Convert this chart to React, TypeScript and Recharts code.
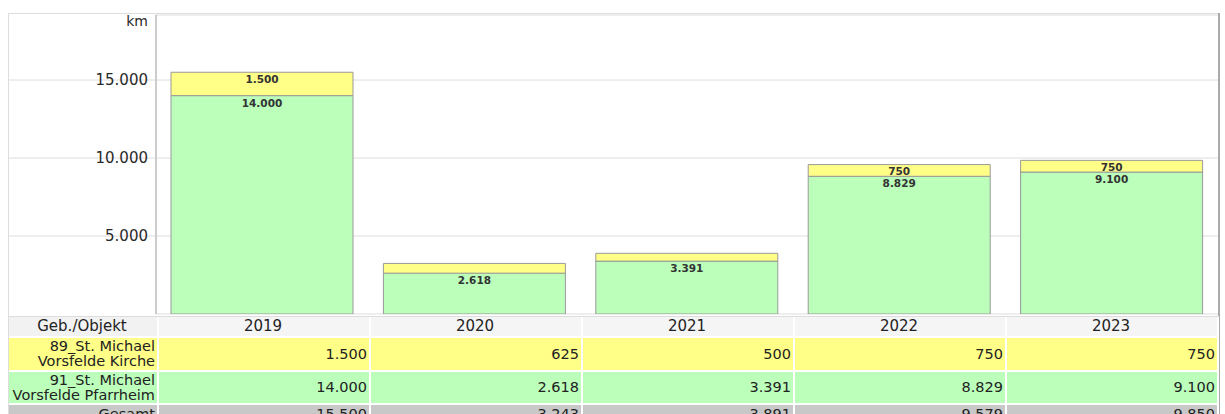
import { BarChart, Bar, XAxis, YAxis, CartesianGrid, LabelList, Label } from 'recharts'

const years = ['2019', '2020', '2021', '2022', '2023']
const kirche = [1500, 625, 500, 750, 750]
const pfarrheim = [14000, 2618, 3391, 8829, 9100]
const yTicks = [5000, 10000, 15000]

const YELLOW = '#ffff88'
const GREEN = '#bbffbb'
const FONT = '"DejaVu Sans", Verdana, sans-serif'

const fmt = (n: number) => String(n).replace(/\B(?=(\d{3})+(?!\d))/g, '.')

const data = years.map((y, i) => ({ year: y, kirche: kirche[i], pfarrheim: pfarrheim[i] }))
const gesamt = years.map((_, i) => kirche[i] + pfarrheim[i])

function YTick(props: any) {
  const { x, y, payload } = props
  return (
    <g>
      <line x1={0} x2={x + 8} y1={y} y2={y} stroke="#dddddd" />
      <text x={x} y={y} dy="0.36em" textAnchor="end" fontSize={15} fill="#2a2a2a" fontFamily={FONT}>
        {fmt(payload.value)}
      </text>
    </g>
  )
}

function SegLabel(props: any) {
  const { x, y, width, height, value } = props
  if (height < 11) return null
  return (
    <text x={x + width / 2} y={y + 3} dy="0.75em" textAnchor="middle" fontSize={10.5} fontWeight="bold" fill="#333" fontFamily={FONT}>
      {fmt(value)}
    </text>
  )
}

const cell = (bg: string, align: 'left' | 'right' | 'center'): React.CSSProperties => ({
  background: bg,
  textAlign: align,
  padding: '0 2px 0 0',
  borderRight: '2px solid #fff',
  borderBottom: '2px solid #fff',
  color: '#222',
  fontSize: 14.5,
  lineHeight: '15px',
  overflow: 'hidden',
  whiteSpace: 'nowrap',
})

export default function App() {
  return (
    <div style={{ position: 'absolute', left: 0, top: 0, width: 1225, height: 414, overflow: 'hidden', background: '#fff', fontFamily: FONT }}>
      {/* frame */}
      <div style={{ position: 'absolute', left: 8, top: 13, width: 1211, height: 1, background: '#dddddd' }} />
      <div style={{ position: 'absolute', left: 8, top: 13, width: 1, height: 401, background: '#dddddd' }} />
      <div style={{ position: 'absolute', left: 1218, top: 13, width: 2, height: 401, background: '#aaaaaa' }} />
      <div style={{ position: 'absolute', left: 8, top: 316, width: 1211, height: 1, background: '#dddddd' }} />

      <div style={{ position: 'absolute', left: 8, top: 13 }}>
        <BarChart width={1210} height={303} data={data} margin={{ top: 2, right: 0, bottom: 2, left: 0 }} barCategoryGap={15}>
          <CartesianGrid vertical={false} stroke="#dddddd" />
          <XAxis dataKey="year" hide />
          <YAxis
            width={148}
            domain={[0, 19170]}
            ticks={yTicks}
            tickLine={false}
            axisLine={{ stroke: '#999' }}
            tick={<YTick />}
            allowDataOverflow
          >
            <Label
              content={(p: any) => (
                <text x={p.viewBox.x + p.viewBox.width - 8} y={p.viewBox.y + 11} textAnchor="end" fontSize={14} fill="#2a2a2a" fontFamily={FONT}>
                  km
                </text>
              )}
            />
          </YAxis>
          <Bar dataKey="pfarrheim" stackId="a" fill={GREEN} stroke="#999" isAnimationActive={false}>
            <LabelList dataKey="pfarrheim" content={<SegLabel />} />
          </Bar>
          <Bar dataKey="kirche" stackId="a" fill={YELLOW} stroke="#999" isAnimationActive={false}>
            <LabelList dataKey="kirche" content={<SegLabel />} />
          </Bar>
        </BarChart>
      </div>

      <table
        style={{
          position: 'absolute',
          left: 9,
          top: 317,
          width: 1210,
          borderCollapse: 'collapse',
          tableLayout: 'fixed',
          fontFamily: FONT,
        }}
      >
        <colgroup>
          <col style={{ width: 149 }} />
          {years.map((y) => (
            <col key={y} />
          ))}
        </colgroup>
        <tbody>
          <tr style={{ height: 20 }}>
            <td style={{ ...cell('#f2f2f2', 'center'), fontSize: 15 }}>Geb./Objekt</td>
            {years.map((y) => (
              <td key={y} style={{ ...cell('#f5f5f5', 'center'), fontSize: 15 }}>
                {y}
              </td>
            ))}
          </tr>
          <tr style={{ height: 34 }}>
            <td style={cell(YELLOW, 'right')}>
              89_St. Michael
              <br />
              Vorsfelde Kirche
            </td>
            {kirche.map((v, i) => (
              <td key={i} style={cell(YELLOW, 'right')}>
                {fmt(v)}
              </td>
            ))}
          </tr>
          <tr style={{ height: 33 }}>
            <td style={cell(GREEN, 'right')}>
              91_St. Michael
              <br />
              Vorsfelde Pfarrheim
            </td>
            {pfarrheim.map((v, i) => (
              <td key={i} style={cell(GREEN, 'right')}>
                {fmt(v)}
              </td>
            ))}
          </tr>
          <tr style={{ height: 20 }}>
            <td style={cell('#c8c8c8', 'right')}>Gesamt</td>
            {gesamt.map((v, i) => (
              <td key={i} style={cell('#c8c8c8', 'right')}>
                {fmt(v)}
              </td>
            ))}
          </tr>
        </tbody>
      </table>
    </div>
  )
}
